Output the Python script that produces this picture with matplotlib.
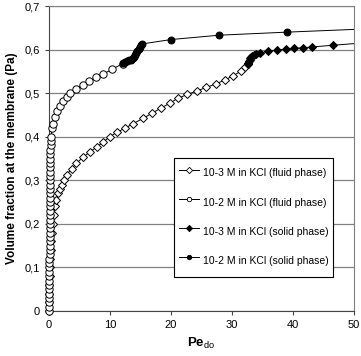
import matplotlib

matplotlib.use("Agg")
import matplotlib.pyplot as plt

plt.rcParams["font.family"] = ["Liberation Sans", "DejaVu Sans"]
plt.rcParams["mathtext.fontset"] = "custom"
plt.rcParams["mathtext.rm"] = "Liberation Sans"
plt.rcParams["mathtext.bf"] = "Liberation Sans:bold"

# 10-3 M in KCl, fluid phase (open diamonds)
x_3f = [0.0, 0.02, 0.05, 0.08, 0.12, 0.17, 0.23, 0.3, 0.4, 0.5, 0.65, 0.8, 1.0,
        1.2, 1.5, 1.8, 2.1, 2.5, 2.9, 3.7, 4.5, 5.6, 6.7, 7.8, 8.9, 10.0, 11.1,
        12.5, 13.8, 15.4, 16.9, 18.4, 19.8, 21.1, 22.7, 24.2, 25.8, 27.3, 28.8,
        30.2, 31.4, 32.2, 32.6]
y_3f = [0.0, 0.02, 0.04, 0.06, 0.08, 0.10, 0.12, 0.14, 0.16, 0.18, 0.20, 0.22,
        0.24, 0.255, 0.27, 0.28, 0.29, 0.30, 0.312, 0.327, 0.339, 0.353, 0.365,
        0.376, 0.388, 0.40, 0.41, 0.42, 0.43, 0.442, 0.454, 0.466, 0.477, 0.488,
        0.497, 0.505, 0.513, 0.521, 0.53, 0.54, 0.55, 0.56, 0.566]

# 10-2 M in KCl, fluid phase (open circles)
x_2f = [0.05, 0.05, 0.05, 0.05, 0.06, 0.06, 0.06, 0.07, 0.07, 0.07, 0.08, 0.08,
        0.08, 0.09, 0.09, 0.09, 0.10, 0.10, 0.10, 0.11, 0.11, 0.11, 0.12, 0.12,
        0.12, 0.13, 0.13, 0.13, 0.14, 0.14, 0.14, 0.15, 0.15, 0.16, 0.17, 0.18,
        0.20, 0.23, 0.27, 0.32, 0.38, 0.5, 0.7, 1.0, 1.3, 1.8, 2.3, 2.9, 3.5,
        4.5, 5.5, 6.5, 7.7, 8.9, 10.4, 12.1]
y_2f = [0.00, 0.01, 0.02, 0.03, 0.04, 0.05, 0.06, 0.07, 0.08, 0.09, 0.10, 0.11,
        0.12, 0.13, 0.14, 0.15, 0.16, 0.17, 0.18, 0.19, 0.20, 0.21, 0.22, 0.23,
        0.24, 0.25, 0.26, 0.27, 0.28, 0.29, 0.30, 0.31, 0.32, 0.33, 0.34, 0.35,
        0.36, 0.37, 0.38, 0.39, 0.40, 0.42, 0.43, 0.445, 0.458, 0.47, 0.482,
        0.492, 0.50, 0.51, 0.519, 0.527, 0.536, 0.544, 0.555, 0.568]

# 10-3 M in KCl, solid phase (filled diamonds)
x_3s = [32.6, 32.7, 32.8, 32.9, 33.0, 33.1, 33.3, 33.6, 34.0, 34.6, 35.9, 37.4,
        38.9, 40.2, 41.6, 43.1, 46.6, 55.0]
y_3s = [0.566, 0.570, 0.574, 0.577, 0.580, 0.583, 0.586, 0.588, 0.590, 0.592,
        0.596, 0.599, 0.601, 0.603, 0.604, 0.606, 0.610, 0.619]

# 10-2 M in KCl, solid phase (filled circles)
x_2s = [12.2, 12.5, 12.8, 13.1, 13.4, 13.7, 13.9, 14.1, 14.3, 14.5, 14.7, 14.9,
        15.1, 15.3, 20.0, 27.9, 39.0, 60.0]
y_2s = [0.569, 0.571, 0.573, 0.575, 0.577, 0.580, 0.583, 0.587, 0.592, 0.597,
        0.602, 0.606, 0.610, 0.613, 0.623, 0.633, 0.640, 0.652]

labels = ["10-3 M in KCl (fluid phase)", "10-2 M in KCl (fluid phase)",
          "10-3 M in KCl (solid phase)", "10-2 M in KCl (solid phase)"]

XMAX = 50

fig = plt.figure(figsize=(3.61, 3.56), dpi=100)
ax = fig.add_axes([49 / 361, 45 / 356, 305 / 361, 305 / 356])


def series(xs, ys, marker, ms, filled, label):
    # line is clipped to the plot area, markers are not (Excel style)
    ax.plot(xs, ys, color="black", lw=0.7)
    pts = [(x, y) for x, y in zip(xs, ys) if x <= XMAX]
    ax.plot([p[0] for p in pts], [p[1] for p in pts], ls="none", marker=marker,
            ms=ms, mfc="black" if filled else "white", mec="black", mew=0.7,
            clip_on=False, zorder=3)
    # proxy for the legend
    ax.plot([], [], color="black", lw=0.7, marker=marker, ms=3.2,
            mfc="black" if filled else "white", mec="black", mew=0.6,
            label=label)


series(x_3f, y_3f, "D", 4.3, False, labels[0])
series(x_2f, y_2f, "o", 5.3, False, labels[1])
series(x_3s, y_3s, "D", 4.3, True, labels[2])
series(x_2s, y_2s, "o", 5.0, True, labels[3])

ax.set_xlim(0, XMAX)
ax.set_ylim(0, 0.7)
ax.set_xticks([0, 10, 20, 30, 40, 50])
ax.set_yticks([0, 0.1, 0.2, 0.3, 0.4, 0.5, 0.6, 0.7])
ax.set_yticklabels(["0", "0,1", "0,2", "0,3", "0,4", "0,5", "0,6", "0,7"])
ax.tick_params(labelsize=8, length=3, width=0.8, color="#444444")
ax.yaxis.grid(True, color="#808080", lw=0.9)
ax.set_axisbelow(True)
for s in ("top", "right"):
    ax.spines[s].set_color("#808080")
for s in ("left", "bottom"):
    ax.spines[s].set_color("#444444")

ax.set_ylabel("Volume fraction at the membrane (Pa)", fontsize=8.5,
              fontweight="bold", labelpad=5)
ax.set_xlabel(r"$\mathbf{Pe}_{\mathrm{do}}$", fontsize=9.5, labelpad=4)

leg = ax.legend(loc="upper right", bbox_to_anchor=(0.931, 0.502),
                borderaxespad=0, fontsize=7.5, fancybox=False,
                edgecolor="black", framealpha=1, labelspacing=0.75,
                handlelength=2.0, handleheight=2.8, handletextpad=0.3,
                borderpad=0.45)
leg.get_frame().set_linewidth(0.8)
leg.set_zorder(5)

fig.savefig("out.png", dpi=100)
